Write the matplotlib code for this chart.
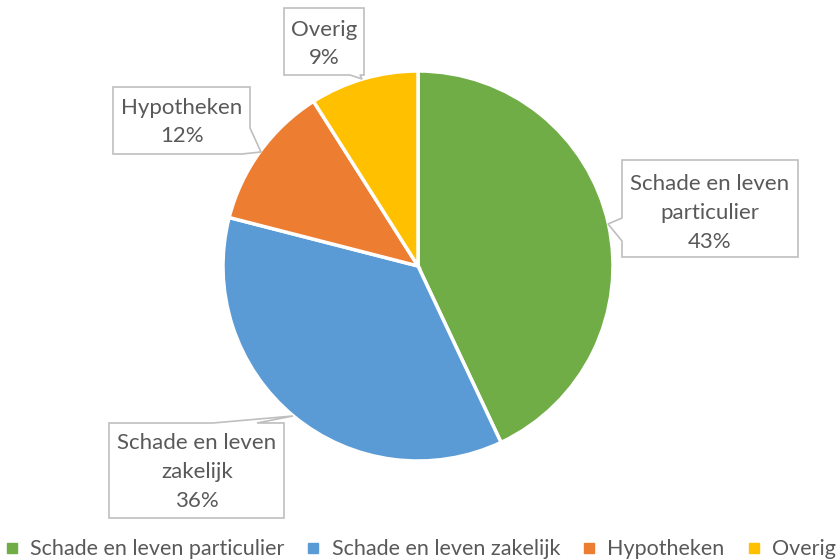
import matplotlib
matplotlib.use("Agg")
import matplotlib.pyplot as plt
from matplotlib.patches import Polygon
from matplotlib.lines import Line2D

categories = ["Schade en leven particulier", "Schade en leven zakelijk", "Hypotheken", "Overig"]
values = [43, 36, 12, 9]
label_texts = ["Schade en leven\nparticulier\n43%", "Schade en leven\nzakelijk\n36%", "Hypotheken\n12%", "Overig\n9%"]
colors = ["#70AD47", "#5B9BD5", "#ED7D31", "#FFC000"]

W, H = 840, 560
plt.rcParams['font.family'] = ['Lato', 'DejaVu Sans']
fig = plt.figure(figsize=(W / 100, H / 100), dpi=100)

cx, cy, r = 418, 266, 195
ax = fig.add_axes([(cx - r) / W, (H - cy - r) / H, 2 * r / W, 2 * r / H])
ax.pie(values, colors=colors, startangle=90, counterclock=False,
       wedgeprops=dict(edgecolor="white", linewidth=2.5), radius=1)
ax.set_xlim(-1, 1)
ax.set_ylim(-1, 1)
ax.set_aspect("equal")
ax.axis("off")

def P(x, y):
    return (x / W, 1 - y / H)

# callout shapes (pixel layout)
shapes = [
    [(622, 160), (798, 160), (798, 257), (622, 257), (622, 241), (608, 224), (622, 218)],
    [(109, 423), (213, 423), (293, 416), (257, 423), (284, 423), (284, 518), (109, 518)],
    [(113, 87), (250, 87), (250, 128), (261, 152), (242, 154), (113, 154)],
    [(284, 8), (364, 8), (364, 75), (360, 75), (362, 79), (350, 75), (284, 75)],
]
centers = [(710, 213), (197, 472), (182, 122), (324, 44)]

for pts, (tx, ty), txt in zip(shapes, centers, label_texts):
    poly = Polygon([P(x, y) for x, y in pts], closed=True, transform=fig.transFigure,
                   facecolor="white", edgecolor="#BFBFBF", linewidth=1.2, zorder=5)
    fig.add_artist(poly)
    fig.text(tx / W, 1 - ty / H, txt, ha="center", va="center", fontsize=16,
             color="#595959", linespacing=1.55, zorder=6)

handles = [Line2D([0], [0], marker="s", linestyle="none", markersize=6.5,
                  markerfacecolor=c, markeredgecolor=c) for c in colors]
fig.legend(handles, categories, loc="lower center", bbox_to_anchor=(0.5, -0.022), ncol=4,
           frameon=False, fontsize=15.5, labelcolor="#595959", handletextpad=0.5,
           columnspacing=1.0, handlelength=0.7, borderaxespad=0.2)

fig.savefig("out.png", dpi=100)
